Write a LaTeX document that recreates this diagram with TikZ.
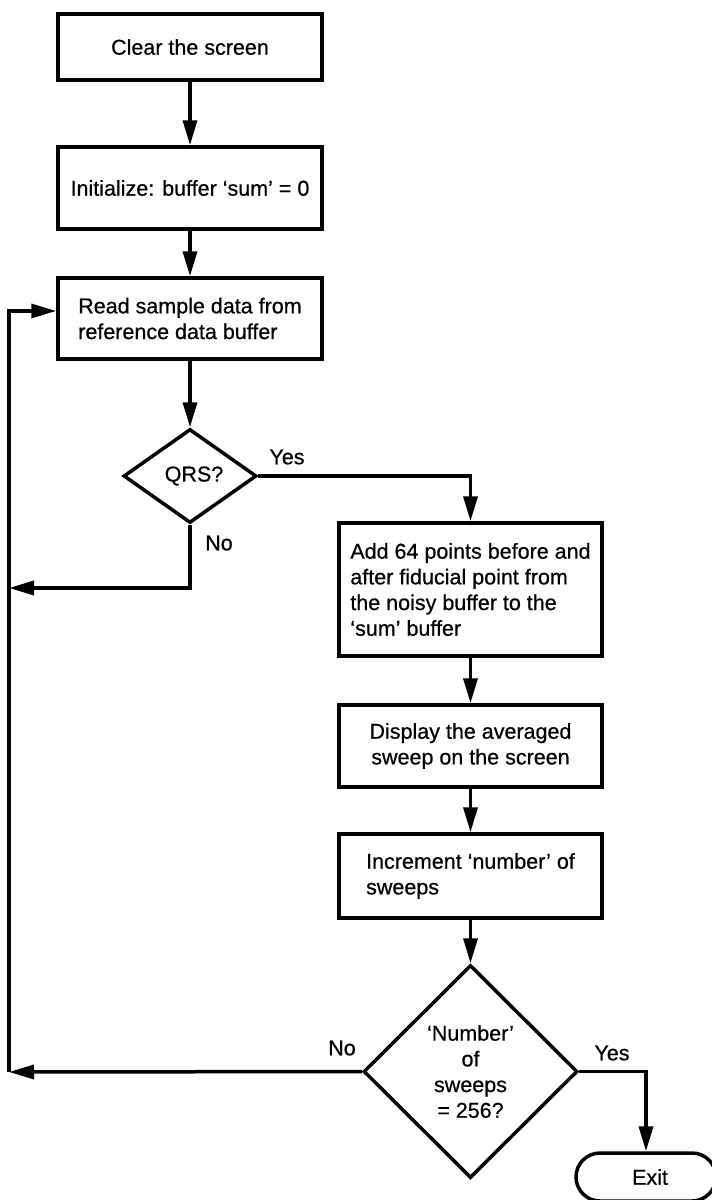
\documentclass[tikz,border=0pt]{standalone}
\usepackage{fontspec}
\setmainfont{Liberation Sans}[FakeBold=0.6]
\usetikzlibrary{arrows.meta,shapes.geometric}
\begin{document}
\begin{tikzpicture}[x=1pt,y=-1pt,
  font=\fontsize{21.5}{25.7}\selectfont,
  proc/.style={draw,line width=3.5pt,minimum width=264pt,inner sep=0pt,align=center},
  dec/.style={draw,diamond,line width=3.5pt,inner sep=0pt,align=center},
  term/.style={draw,line width=3.5pt,rounded corners=24pt,inner sep=0pt},
  arr/.style={line width=3.5pt,-{Triangle[length=25pt,width=14pt]}},
  lbl/.style={inner sep=0pt}]
\path[use as bounding box] (0,0) rectangle (712,1200);
\clip (0,0) rectangle (712,1200);
% left column
\node[proc,minimum height=66pt] (b1) at (190,47) {Clear the screen};
\node[proc,minimum height=82pt] (b2) at (190,188) {Initialize: buffer `sum' = 0};
\node[proc,minimum height=81pt,align=left] (b3) at (190,318.5) {Read sample data from\\reference data buffer};
\node[dec,minimum width=133pt,minimum height=94pt] (q) at (190,476) {\hspace*{8pt}QRS?};
% right column
\node[proc,minimum width=263pt,minimum height=133pt,align=left] (b4) at (470.5,589.5) {Add 64 points before and\\after fiducial point from\\the noisy buffer to the\\`sum' buffer};
\node[proc,minimum width=263pt,minimum height=82pt] (b5) at (470.5,746) {Display the averaged\\sweep on the screen};
\node[proc,minimum width=263pt,minimum height=84pt,align=left] (b6) at (470.5,876) {Increment `number' of\\sweeps};
\node[dec,minimum width=214pt,minimum height=213pt] (d) at (470.5,1071.5) {`Number'\\of\\sweeps\\= 256?};
\node[term,minimum width=140pt,minimum height=48pt] (ex) at (646,1177) {\hspace*{8pt}Exit};
% labels
\node[lbl] (y1) at (287,457) {Yes};
\node[lbl] (n1) at (219,543) {No};
\node[lbl] (n2) at (342,1048) {No};
\node[lbl] (y2) at (612,1053) {Yes};
% loop coordinates
\coordinate (lt) at (9,311);
\coordinate (ln1) at (9,588);
\coordinate (lb) at (9,1072);
% connectors
\draw[arr] (b1) -- (b2);
\draw[arr] (b2) -- (b3);
\draw[arr] (b3) -- (q);
\draw[arr] (q.east) -| (b4.north);
\draw[arr] (q.south) |- (ln1);
\draw[arr] (b4) -- (b5);
\draw[arr] (b5) -- (b6);
\draw[arr] (b6) -- (d);
\draw[arr] (d.west) -- (lb);
\draw[arr] (d.east) -| (ex.north);
\draw[arr] (lb) -- (lt) -- (lt -| b3.west);
\end{tikzpicture}
\end{document}
